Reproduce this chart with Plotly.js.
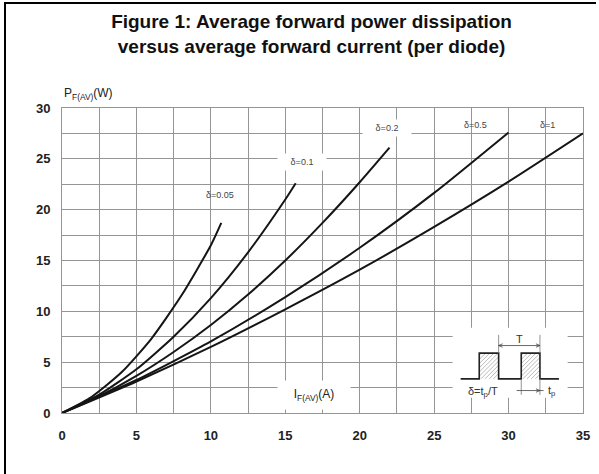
<!DOCTYPE html>
<html>
<head>
<meta charset="utf-8">
<script src="https://cdn.plot.ly/plotly-3.0.1.min.js"></script>
<style>
html,body{margin:0;padding:0;background:#fff;overflow:hidden;}
#chart{position:absolute;left:0;top:0;width:599px;height:474px;}
#frame{position:absolute;left:4px;top:2px;width:590px;height:470px;border-left:2px solid #000;border-top:2px solid #000;pointer-events:none;}
</style>
</head>
<body>
<div id="chart"></div>
<div id="frame"></div>
<script>
// Average forward current IF(AV) (A) and power PF(AV) (W)
const i_d005 = [0, 2, 4, 6, 8, 10, 10.7];
const p_d005 = [0, 1.6, 4.0, 7.3, 11.5, 16.5, 18.7];

const i_d01 = [0, 2.5, 5, 7.5, 10, 12.5, 15, 15.7];
const p_d01 = [0, 1.8, 4.3, 7.5, 11.3, 15.8, 21.0, 22.6];

const i_d02 = [0, 2.5, 5, 7.5, 10, 12.5, 15, 17.5, 20, 22];
const p_d02 = [0, 1.65, 3.65, 6.0, 8.65, 11.65, 15.0, 18.7, 22.7, 26.1];

const i_d05 = [0, 5, 10, 15, 20, 25, 30];
const p_d05 = [0, 3.25, 7.05, 11.4, 16.25, 21.65, 27.6];

const i_d1 = [0, 5, 10, 15, 20, 25, 30, 35];
const p_d1 = [0, 3.1, 6.5, 10.2, 14.1, 18.3, 22.75, 27.5];

const seriesNames = ['δ=0.05', 'δ=0.1', 'δ=0.2', 'δ=0.5', 'δ=1'];
const seriesX = [i_d005, i_d01, i_d02, i_d05, i_d1];
const seriesY = [p_d005, p_d01, p_d02, p_d05, p_d1];

const xTicks = [0, 5, 10, 15, 20, 25, 30, 35];
const yTicks = [0, 5, 10, 15, 20, 25, 30];

const titleText = 'Figure 1: Average forward power dissipation<br>versus average forward current (per diode)';
const yTitle = 'P<sub>F(AV)</sub>(W)';
const xTitle = 'I<sub>F(AV)</sub>(A)';

const FONT = '"Liberation Sans", Arial, sans-serif';
const GRID = '#959595';

const traces = seriesX.map((xs, k) => ({
  type: 'scatter', mode: 'lines', x: xs, y: seriesY[k], name: seriesNames[k],
  line: {color: '#151515', width: 2, shape: 'spline', smoothing: 0.6},
  hoverinfo: 'skip', showlegend: false
}));

// curve labels: [text, x, y, whiteBackground]
const labelSpecs = [
  ['δ=0.05', 10.6, 21.4, false],
  ['δ=0.1', 16.1, 24.7, true],
  ['δ=0.2', 21.85, 28.0, true],
  ['δ=0.5', 27.8, 28.35, false],
  ['δ=1', 32.6, 28.35, false]
];

const annotations = labelSpecs.map(s => {
  const a = {
    text: s[0], x: s[1], y: s[2], xref: 'x', yref: 'y', showarrow: false,
    font: {family: FONT, size: 9, color: '#444'},
    xanchor: 'center', yanchor: 'middle'
  };
  if (s[3]) { a.bgcolor = '#fff'; a.width = 46; a.height = 14; }
  return a;
});

annotations.push({
  text: yTitle, xref: 'paper', yref: 'paper', x: 0, y: 1.046,
  xanchor: 'left', yanchor: 'middle', showarrow: false,
  font: {family: FONT, size: 12, color: '#222'}
});
annotations.push({
  text: xTitle, xref: 'x', yref: 'y', x: 16.94, y: 1.75,
  xanchor: 'center', yanchor: 'middle', showarrow: false,
  bgcolor: '#fff', width: 70, height: 26,
  font: {family: FONT, size: 12, color: '#222'}
});
// inset texts
annotations.push({text: 'T', x: 30.71, y: 7.25, xref: 'x', yref: 'y', showarrow: false,
  font: {family: FONT, size: 11, color: '#333'}});
annotations.push({text: 'δ=t<sub>p</sub>/T', x: 28.27, y: 2.1, xref: 'x', yref: 'y', showarrow: false,
  font: {family: FONT, size: 11, color: '#333'}});
annotations.push({text: 't<sub>p</sub>', x: 32.9, y: 2.15, xref: 'x', yref: 'y', showarrow: false,
  font: {family: FONT, size: 11, color: '#333'}});

// inset pulse diagram, in pixels relative to an anchor on the data axes
const AX = 26.78, AY = 3.36;
function pix(extra) {
  return Object.assign({xref: 'x', yref: 'y', xsizemode: 'pixel', ysizemode: 'pixel',
    xanchor: AX, yanchor: AY, layer: 'above'}, extra);
}
function hatch(x0, x1, h, step) {
  const w = x1 - x0; let d = '';
  for (let k = -h + step / 2; k < w; k += step) {
    const ya = Math.max(0, -k), yb = Math.min(h, w - k);
    if (yb <= ya) continue;
    d += 'M' + (x0 + k + ya).toFixed(2) + ',' + ya.toFixed(2) + 'L' + (x0 + k + yb).toFixed(2) + ',' + yb.toFixed(2);
  }
  return d;
}
const PH = 25.7;
const shapes = [
  pix({type: 'rect', x0: -8, x1: 107, y0: -19, y1: 51, fillcolor: '#fff', line: {width: 0}}),
  pix({type: 'path', path: hatch(18.6, 38, PH, 4.2), line: {color: '#a8a8a8', width: 0.8}}),
  pix({type: 'path', path: hatch(60.6, 79.3, PH, 4.2), line: {color: '#a8a8a8', width: 0.8}}),
  pix({type: 'path', path: 'M0,0 H18.6 V25.7 H38 V0 H60.6 V25.7 H79.3 V0 H98.3', line: {color: '#222', width: 1.6}}),
  // T dimension
  pix({type: 'path', path: 'M38,25.7 V44 M79.3,25.7 V44', line: {color: '#777', width: 0.8}}),
  pix({type: 'path', path: 'M38,33.3 H79.3 M38,33.3 L42,35 M38,33.3 L42,31.6 M79.3,33.3 L75.3,35 M79.3,33.3 L75.3,31.6', line: {color: '#444', width: 0.8}}),
  // tp dimension
  pix({type: 'path', path: 'M60.6,0 V-16 M79.3,0 V-16', line: {color: '#777', width: 0.8}}),
  pix({type: 'path', path: 'M56,-11.7 H83 M79.3,-11.7 L75.3,-10 M79.3,-11.7 L75.3,-13.4', line: {color: '#444', width: 0.8}})
];

const layout = {
  width: 599, height: 474,
  margin: {l: 62, r: 16, t: 108, b: 61, pad: 0},
  paper_bgcolor: '#fff', plot_bgcolor: '#fff',
  font: {family: FONT, color: '#222'},
  title: {text: titleText, font: {family: FONT, size: 19, color: '#111', weight: 'bold'},
          x: 0.479, xref: 'paper', xanchor: 'center', y: 0.94, yref: 'container', yanchor: 'top'},
  xaxis: {
    range: [0, 35], tickvals: xTicks, ticktext: xTicks.map(String),
    showgrid: true, gridcolor: GRID, gridwidth: 1,
    minor: {dtick: 2.5, tick0: 0, showgrid: true, gridcolor: GRID, gridwidth: 1},
    showline: true, linecolor: GRID, linewidth: 1, mirror: true,
    zeroline: false, ticks: '', ticklabelstandoff: 10,
    tickfont: {family: FONT, size: 13, color: '#222', weight: 'bold'}, fixedrange: true
  },
  yaxis: {
    range: [0, 30], tickvals: yTicks, ticktext: yTicks.map(String),
    showgrid: true, gridcolor: GRID, gridwidth: 1,
    minor: {dtick: 2.5, tick0: 0, showgrid: true, gridcolor: GRID, gridwidth: 1},
    showline: true, linecolor: GRID, linewidth: 1, mirror: true,
    zeroline: false, ticks: '', ticklabelstandoff: 8,
    tickfont: {family: FONT, size: 13, color: '#222', weight: 'bold'}, fixedrange: true
  },
  annotations: annotations,
  shapes: shapes,
  showlegend: false
};

Plotly.newPlot('chart', traces, layout, {displayModeBar: false, staticPlot: true});
</script>
</body>
</html>
